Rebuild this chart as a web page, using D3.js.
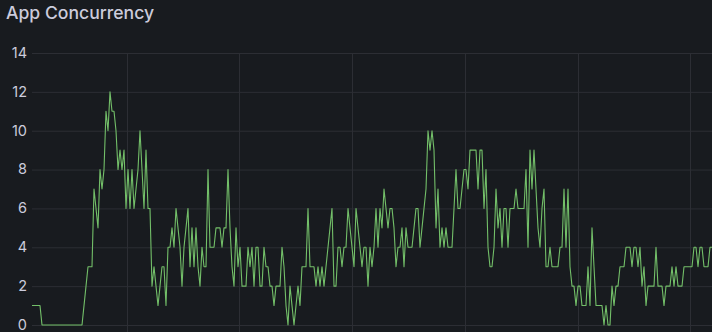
<!DOCTYPE html>
<html>
<head>
<meta charset="utf-8">
<script src="https://cdn.jsdelivr.net/npm/d3@7"></script>
<style>
  html, body { margin: 0; padding: 0; background: #181b1f; }
  svg { display: block; }
</style>
</head>
<body>
<svg id="chart" width="712" height="332"></svg>
<script>
// ---- data ----
const title = "App Concurrency";
const startTime = "2024-05-01T09:51:37Z";
const stepSeconds = 10.64;
const yTicks = [0, 2, 4, 6, 8, 10, 12, 14];
const concurrency = [
  1,1,1,1,1,0,0,0,0,0,0,0,0,0,0,0,0,0,0,0,0,0,0,0,0,0,
  1,2,3,3,3,7,6,5,8,7,8,11,10,12,11,11,10,8,9,8,9,6,8,6,8,6,7,8,10,8,6,9,6,6,
  2,3,2,1,2,3,3,1,4,4,5,4,6,5,4,2,4,5,6,3,5,3,5,3,2,4,3,3,8,4,4,4,5,5,5,4,5,5,8,5,3,2,5,3,4,2,2,2,
  4,3,4,2,4,4,2,2,4,3,3,2,2,1,2,2,2,4,3,1,0,2,1,0,1,2,1,3,3,3,6,3,3,3,2,3,2,3,2,3,4,5,6,2,2,4,4,3,
  4,4,6,5,4,3,6,5,4,3,4,4,2,4,3,4,6,4,6,5,7,6,5,6,6,5,3,4,4,5,3,5,4,4,4,5,6,6,4,5,6,7,10,9,10,9,5,7,4,5,4,5,4,4,4,6,8,6,6,7,8,8,7,
  9,9,9,9,7,9,9,6,8,4,3,3,4,7,5,6,4,6,6,4,6,6,6,7,6,6,6,6,8,4,9,7,9,7,5,4,6,7,3,3,4,3,3,3,3,4,4,7,4,7,
  3,2,2,1,2,2,1,1,1,3,1,5,3,1,1,1,1,0,1,0,0,2,1,2,2,3,3,3,4,4,4,3,4,4,3,4,2,3,1,2,2,2,2,4,2,2,2,1,2,2,2,3,2,3,2,2,2,3,3,3,3,3,4,4,3,4,4,3,3,3,4,4
];

// ---- layout ----
const W = 712, H = 332;
const margin = { left: 32, right: 0, top: 53, bottom: 7 };

const svg = d3.select("#chart");
svg.append("rect").attr("width", W).attr("height", H).attr("fill", "#181b1f");

const t0 = new Date(startTime);
const data = concurrency.map((v, i) => ({ t: new Date(t0.getTime() + i * stepSeconds * 1000), v }));

const x = d3.scaleUtc()
  .domain([data[0].t, data[data.length - 1].t])
  .range([margin.left, W - margin.right]);
const y = d3.scaleLinear()
  .domain([0, 14])
  .range([H - margin.bottom, margin.top]);

// grid lines
const grid = svg.append("g");
grid.selectAll("line.h").data(yTicks).join("line")
  .attr("class", "h")
  .attr("x1", margin.left).attr("x2", W - margin.right)
  .attr("y1", d => y(d) + 0.5).attr("y2", d => y(d) + 0.5)
  .attr("stroke", "#2c2e34").attr("stroke-width", 1);
grid.selectAll("line.v").data(x.ticks(d3.utcMinute.every(10))).join("line")
  .attr("class", "v")
  .attr("x1", d => Math.round(x(d)) + 0.5).attr("x2", d => Math.round(x(d)) + 0.5)
  .attr("y1", margin.top).attr("y2", H)
  .attr("stroke", "#2c2e34").attr("stroke-width", 1);

// y axis labels
const yAxis = d3.axisLeft(y).tickValues(yTicks).tickSize(0).tickPadding(0);
const ya = svg.append("g").attr("transform", `translate(${margin.left - 5},0)`).call(yAxis);
ya.select(".domain").remove();
ya.selectAll("text")
  .attr("fill", "#ccccdc")
  .attr("font-family", "Inter, 'Noto Sans', sans-serif")
  .attr("font-size", 14.5)
  .attr("dy", "0.3em");

// title
svg.append("text")
  .attr("x", 6).attr("y", 19)
  .attr("fill", "#ccccdc")
  .attr("font-family", "Inter, 'Noto Sans', sans-serif")
  .attr("font-weight", 500)
  .attr("font-size", 17.6)
  .text(title);

// line
const line = d3.line().x(d => x(d.t)).y(d => y(d.v));
svg.append("path")
  .datum(data)
  .attr("fill", "none")
  .attr("stroke", "#73bf69")
  .attr("stroke-width", 1.1)
  .attr("stroke-linejoin", "round")
  .attr("d", line);
</script>
</body>
</html>
